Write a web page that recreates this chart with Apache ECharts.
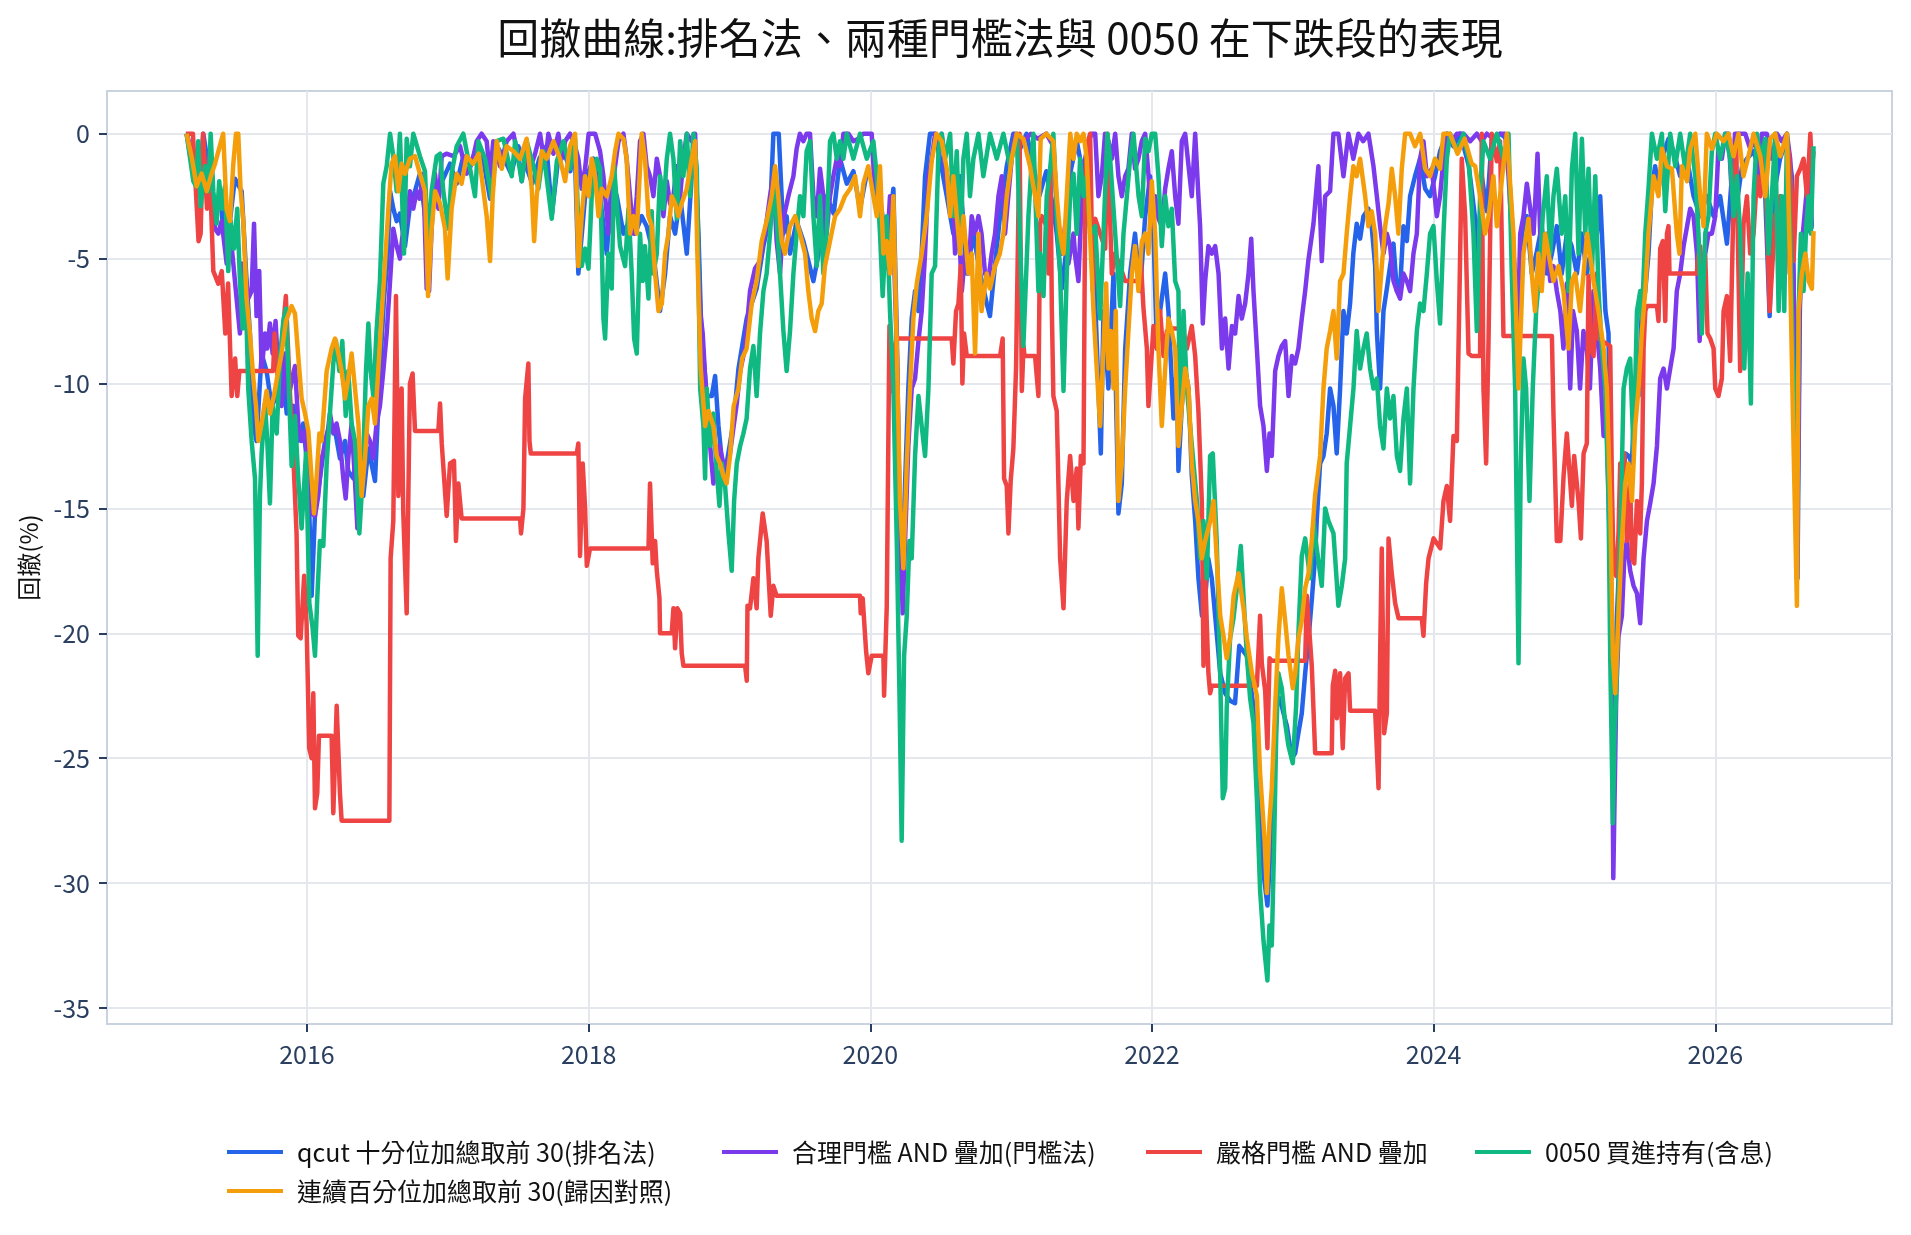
<!DOCTYPE html>
<html>
<head>
<meta charset="utf-8">
<title>回撤曲線</title>
<script src="https://cdn.jsdelivr.net/npm/echarts@6/dist/echarts.min.js"></script>
<style>
  html, body { margin: 0; padding: 0; background: #fff; }
  #chart { width: 1911px; height: 1235px; }
</style>
</head>
<body>
<div id="chart"></div>
<script>
// 各策略名稱（依圖例順序）
var names = [
  'qcut 十分位加總取前 30(排名法)',
  '合理門檻 AND 疊加(門檻法)',
  '嚴格門檻 AND 疊加',
  '0050 買進持有(含息)',
  '連續百分位加總取前 30(歸因對照)'
];
var colors = ['#2563eb', '#7c3aed', '#ef4444', '#10b981', '#f59e0b'];

var yearTicks = [2016, 2018, 2020, 2022, 2024, 2026];
var ddTicks = [0, -5, -10, -15, -20, -25, -30, -35];

// 回撤(%)，[年份(小數), 回撤]
var qcutDD = [[2015.145,0],[2015.193,-1.6],[2015.24,-1.6],[2015.264,0],[2015.288,-0.9],[2015.335,-3.8],[2015.382,-2.3],[2015.405,-3.8],[2015.453,-3.5],[2015.488,-1.8],[2015.536,-2.3],[2015.548,-3.5],[2015.571,-5.9],[2015.595,-8.0],[2015.619,-11.6],[2015.642,-12.3],[2015.678,-8.8],[2015.713,-9.5],[2015.749,-10.9],[2015.785,-10.5],[2015.82,-8.8],[2015.856,-11.2],[2015.903,-10.9],[2015.938,-12.3],[2015.974,-11.6],[2016.01,-13.8],[2016.033,-18.5],[2016.057,-15.2],[2016.092,-13.8],[2016.128,-12.3],[2016.163,-11.6],[2016.2,-11.9],[2016.234,-13.0],[2016.27,-12.3],[2016.293,-13.5],[2016.33,-13.8],[2016.365,-12.3],[2016.4,-14.5],[2016.436,-12.6],[2016.483,-13.9],[2016.518,-9.5],[2016.547,-6.6],[2016.57,-5.2],[2016.59,-2.3],[2016.613,-3.0],[2016.637,-3.5],[2016.66,-3.2],[2016.696,-4.5],[2016.731,-2.9],[2016.767,-2.3],[2016.802,-1.6],[2016.85,-3.8],[2016.885,-3.0],[2016.921,-2.3],[2016.968,-1.8],[2017.016,-1.2],[2017.063,-2.0],[2017.11,-0.9],[2017.158,-1.2],[2017.205,-0.6],[2017.25,-1.0],[2017.30,-2.6],[2017.35,-0.5],[2017.40,-1.0],[2017.45,-1.6],[2017.50,-0.5],[2017.55,-1.2],[2017.60,-2.0],[2017.65,-1.0],[2017.70,-0.5],[2017.74,-3.2],[2017.78,-1.2],[2017.83,-0.8],[2017.87,-1.5],[2017.90,-0.3],[2017.927,-5.6],[2017.963,-3.3],[2017.987,-1.7],[2018.034,-1.0],[2018.081,-2.5],[2018.129,-4.8],[2018.164,-1.9],[2018.2,-2.5],[2018.247,-4.0],[2018.294,-3.4],[2018.33,-4.0],[2018.377,-3.3],[2018.412,-3.7],[2018.46,-4.8],[2018.507,-7.1],[2018.543,-5.6],[2018.578,-3.3],[2018.614,-4.0],[2018.65,-2.5],[2018.697,-4.8],[2018.732,-1.7],[2018.756,-0.7],[2018.78,-4.0],[2018.8,-7.9],[2018.839,-10.5],[2018.874,-10.5],[2018.898,-9.7],[2018.922,-11.7],[2018.957,-13.7],[2018.98,-13.2],[2019.004,-12.4],[2019.03,-11.5],[2019.064,-9.4],[2019.122,-7.4],[2019.193,-6.2],[2019.241,-4.5],[2019.288,-3.3],[2019.312,0],[2019.35,0],[2019.383,-4.0],[2019.406,-3.3],[2019.43,-4.8],[2019.477,-3.5],[2019.525,-4.3],[2019.596,-5.9],[2019.643,-4.5],[2019.667,-4.0],[2019.69,-2.5],[2019.74,-3.2],[2019.785,-1.0],[2019.833,-2.0],[2019.88,-1.5],[2019.927,-3.0],[2019.975,-1.6],[2020.022,-1.7],[2020.069,-2.6],[2020.117,-4.5],[2020.164,-2.2],[2020.188,-7.9],[2020.207,-14.7],[2020.223,-18.6],[2020.247,-14.0],[2020.27,-10.2],[2020.294,-7.4],[2020.318,-6.3],[2020.342,-7.1],[2020.365,-4.8],[2020.389,-1.7],[2020.424,0],[2020.46,0],[2020.495,-1.0],[2020.543,-2.5],[2020.59,-4.0],[2020.638,-1.7],[2020.685,-5.6],[2020.732,-4.0],[2020.78,-5.6],[2020.827,-6.8],[2020.85,-7.3],[2020.874,-5.9],[2020.921,-3.3],[2020.969,-1.3],[2021.016,0],[2021.064,-0.6],[2021.11,0],[2021.158,-1.3],[2021.2,-2.5],[2021.25,-1.5],[2021.30,-3.0],[2021.324,-4.0],[2021.36,-6.2],[2021.395,-4.5],[2021.419,-1.6],[2021.466,-0.3],[2021.514,-1.7],[2021.585,-4.8],[2021.62,-10.2],[2021.637,-12.8],[2021.656,-7.1],[2021.691,-10.2],[2021.727,-5.6],[2021.762,-15.2],[2021.786,-14.0],[2021.81,-8.6],[2021.845,-5.6],[2021.88,-4.0],[2021.916,-6.3],[2021.952,-3.3],[2021.987,-1.7],[2022.011,-4.0],[2022.035,-8.6],[2022.058,-7.1],[2022.094,-5.6],[2022.117,-7.1],[2022.153,-11.4],[2022.176,-9.4],[2022.188,-13.5],[2022.212,-10.9],[2022.235,-9.4],[2022.26,-10.2],[2022.283,-13.7],[2022.307,-15.5],[2022.33,-17.8],[2022.355,-19.3],[2022.378,-18.6],[2022.40,-17.0],[2022.425,-17.8],[2022.46,-20.0],[2022.485,-21.6],[2022.52,-22.4],[2022.555,-22.7],[2022.59,-22.8],[2022.62,-20.5],[2022.674,-20.9],[2022.72,-22.9],[2022.756,-25.8],[2022.792,-29.6],[2022.82,-30.9],[2022.839,-28.9],[2022.863,-25.6],[2022.887,-22.9],[2022.91,-22.6],[2022.934,-23.2],[2022.958,-23.7],[2022.993,-25.0],[2023.017,-24.8],[2023.04,-24.0],[2023.064,-23.2],[2023.088,-21.6],[2023.112,-20.2],[2023.136,-18.6],[2023.159,-16.9],[2023.17,-15.5],[2023.194,-13.2],[2023.218,-12.9],[2023.241,-12.0],[2023.265,-10.2],[2023.289,-10.9],[2023.312,-12.8],[2023.336,-10.2],[2023.36,-7.1],[2023.383,-8.0],[2023.407,-6.8],[2023.43,-4.8],[2023.454,-3.6],[2023.478,-4.2],[2023.502,-3.3],[2023.537,-3.0],[2023.56,-3.7],[2023.585,-5.3],[2023.597,-7.9],[2023.62,-10.2],[2023.644,-7.1],[2023.668,-6.2],[2023.691,-5.3],[2023.715,-4.4],[2023.739,-6.3],[2023.762,-6.2],[2023.786,-3.7],[2023.81,-4.3],[2023.833,-2.5],[2023.868,-1.7],[2023.904,-1.0],[2023.94,-2.2],[2023.975,-2.5],[2024.01,-1.7],[2024.046,-0.7],[2024.094,0],[2024.14,-0.5],[2024.19,0],[2024.25,-1.3],[2024.295,-3.4],[2024.318,-4.8],[2024.342,-1.7],[2024.378,-3.1],[2024.413,-0.2],[2024.472,0],[2024.52,-0.2],[2024.555,-3.3],[2024.58,-6.3],[2024.603,-8.6],[2024.627,-4.0],[2024.662,-3.3],[2024.697,-5.6],[2024.73,-4.8],[2024.768,-3.7],[2024.804,-5.6],[2024.84,-4.8],[2024.875,-3.7],[2024.91,-5.6],[2024.946,-4.0],[2024.98,-4.5],[2025.017,-5.6],[2025.053,-4.0],[2025.088,-5.6],[2025.124,-4.5],[2025.16,-4.0],[2025.183,-2.5],[2025.22,-7.1],[2025.242,-8.0],[2025.254,-14.7],[2025.27,-22.8],[2025.29,-20.9],[2025.313,-17.8],[2025.337,-14.7],[2025.36,-12.8],[2025.385,-12.9],[2025.408,-13.2],[2025.43,-10.2],[2025.455,-10.5],[2025.478,-7.1],[2025.503,-6.3],[2025.526,-4.8],[2025.55,-2.2],[2025.573,-1.3],[2025.597,-2.2],[2025.633,-0.8],[2025.668,-0.2],[2025.704,-0.7],[2025.751,-1.7],[2025.8,-1.0],[2025.846,-2.5],[2025.893,-3.3],[2025.94,-2.5],[2025.988,-3.3],[2026.035,-2.5],[2026.083,-4.4],[2026.118,-1.7],[2026.153,-2.8],[2026.19,-1.3],[2026.225,-1.0],[2026.272,-0.7],[2026.32,-1.6],[2026.355,-2.5],[2026.386,-7.3],[2026.414,-2.5],[2026.46,-1.0],[2026.509,-0.2],[2026.544,-1.7],[2026.568,-10.2],[2026.584,-17.8],[2026.603,-5.6],[2026.64,-4.0],[2026.675,-3.7],[2026.698,-3.7]];

var reasonDD = [[2015.145,0],[2015.193,-0.9],[2015.24,-2.3],[2015.276,-0.9],[2015.31,-1.2],[2015.347,-3.8],[2015.37,-4.0],[2015.394,-3.5],[2015.43,-5.2],[2015.453,-3.8],[2015.477,-5.2],[2015.5,-6.6],[2015.524,-8.0],[2015.536,-5.2],[2015.56,-5.5],[2015.583,-6.6],[2015.607,-6.3],[2015.624,-3.6],[2015.642,-7.3],[2015.661,-5.5],[2015.678,-9.5],[2015.702,-8.0],[2015.718,-8.6],[2015.737,-7.6],[2015.756,-8.8],[2015.777,-7.5],[2015.796,-9.5],[2015.82,-10.9],[2015.844,-8.8],[2015.868,-10.6],[2015.891,-9.9],[2015.915,-9.3],[2015.938,-11.6],[2015.962,-12.3],[2015.986,-11.9],[2016.01,-13.8],[2016.033,-15.2],[2016.057,-15.3],[2016.08,-14.5],[2016.104,-13.0],[2016.14,-12.3],[2016.163,-11.2],[2016.187,-12.0],[2016.21,-11.6],[2016.234,-12.3],[2016.258,-13.8],[2016.275,-14.6],[2016.293,-13.0],[2016.317,-11.6],[2016.34,-13.8],[2016.358,-15.8],[2016.377,-14.5],[2016.4,-13.0],[2016.424,-12.0],[2016.447,-12.3],[2016.471,-13.0],[2016.494,-11.6],[2016.518,-10.9],[2016.542,-9.5],[2016.566,-8.0],[2016.59,-5.9],[2016.613,-3.8],[2016.637,-4.5],[2016.66,-5.0],[2016.684,-3.8],[2016.708,-3.5],[2016.731,-2.3],[2016.755,-3.0],[2016.779,-2.3],[2016.8,-2.6],[2016.826,-1.6],[2016.85,-6.2],[2016.867,-6.3],[2016.885,-3.8],[2016.909,-1.6],[2016.933,-3.0],[2016.957,-0.9],[2016.99,-0.8],[2017.04,-0.9],[2017.087,-0.5],[2017.134,-1.6],[2017.17,-1.2],[2017.205,-0.3],[2017.24,0],[2017.276,-0.3],[2017.3,-1.7],[2017.323,-0.3],[2017.371,-1.3],[2017.418,-0.3],[2017.466,0],[2017.513,-1.3],[2017.525,-1.9],[2017.56,-0.5],[2017.584,-1.4],[2017.62,-0.8],[2017.655,0],[2017.69,-1.3],[2017.714,0],[2017.75,-0.8],[2017.785,0],[2017.809,-1.0],[2017.833,-0.3],[2017.868,0],[2017.904,-0.5],[2017.927,-1.0],[2017.951,-2.2],[2017.975,-1.4],[2018.0,0],[2018.046,0],[2018.081,-0.7],[2018.105,-1.7],[2018.14,-4.0],[2018.164,-2.3],[2018.188,-1.3],[2018.212,-0.3],[2018.247,0],[2018.27,-1.0],[2018.294,-2.5],[2018.318,-4.0],[2018.342,-2.5],[2018.365,-0.3],[2018.389,0],[2018.412,-1.3],[2018.436,-1.7],[2018.46,-2.5],[2018.484,-1.0],[2018.507,-1.7],[2018.531,-3.3],[2018.555,-1.9],[2018.578,-2.8],[2018.602,-2.5],[2018.626,-1.3],[2018.65,-2.5],[2018.673,-1.0],[2018.697,0],[2018.732,-0.3],[2018.756,0],[2018.772,-3.3],[2018.792,-7.1],[2018.81,-8.0],[2018.839,-10.9],[2018.863,-12.5],[2018.886,-14.0],[2018.905,-13.2],[2018.929,-12.5],[2018.957,-13.2],[2018.98,-13.5],[2019.004,-12.8],[2019.03,-11.7],[2019.052,-10.8],[2019.076,-9.5],[2019.11,-8.6],[2019.146,-6.3],[2019.181,-5.4],[2019.217,-5.1],[2019.252,-4.0],[2019.288,-2.5],[2019.312,-1.7],[2019.335,-4.3],[2019.359,-5.6],[2019.383,-3.4],[2019.418,-2.5],[2019.454,-1.7],[2019.477,-0.6],[2019.5,0],[2019.525,-0.3],[2019.548,0],[2019.572,0],[2019.596,-2.5],[2019.62,-3.3],[2019.643,-1.4],[2019.667,-2.5],[2019.69,-4.0],[2019.714,-2.5],[2019.738,-1.7],[2019.762,-1.0],[2019.785,-1.3],[2019.809,0],[2019.845,0],[2019.88,-0.3],[2019.915,-0.2],[2019.95,0],[2019.986,0],[2020.01,0],[2020.034,-2.5],[2020.058,-1.7],[2020.081,-4.0],[2020.117,-4.8],[2020.14,-2.5],[2020.164,-4.0],[2020.188,-8.6],[2020.207,-14.7],[2020.23,-19.2],[2020.247,-16.3],[2020.27,-12.5],[2020.294,-10.2],[2020.318,-9.8],[2020.342,-8.3],[2020.365,-7.1],[2020.389,-4.8],[2020.413,-1.7],[2020.436,-1.0],[2020.46,0],[2020.484,-0.3],[2020.507,0],[2020.531,-1.3],[2020.555,-2.5],[2020.578,-1.7],[2020.602,-4.8],[2020.626,-3.3],[2020.65,-6.3],[2020.673,-4.8],[2020.697,-5.6],[2020.72,-3.3],[2020.744,-4.0],[2020.768,-3.3],[2020.79,-4.0],[2020.815,-5.6],[2020.838,-5.9],[2020.862,-4.8],[2020.886,-4.0],[2020.91,-2.5],[2020.934,-1.7],[2020.957,-4.0],[2020.98,-2.5],[2021.004,-1.0],[2021.028,0],[2021.087,-0.3],[2021.14,0],[2021.19,-0.2],[2021.25,0],[2021.3,-0.5],[2021.336,-4.0],[2021.36,-4.8],[2021.383,-3.7],[2021.407,-5.2],[2021.443,-4.0],[2021.455,-4.9],[2021.478,-5.9],[2021.502,-2.5],[2021.526,-1.0],[2021.55,-0.3],[2021.573,0],[2021.597,0],[2021.62,-2.5],[2021.644,-1.7],[2021.667,0],[2021.691,-0.3],[2021.715,-1.0],[2021.739,0],[2021.762,-1.7],[2021.786,-2.5],[2021.81,-1.7],[2021.833,-1.4],[2021.857,0],[2021.88,-1.4],[2021.904,-1.0],[2021.928,-0.3],[2021.952,0],[2021.976,-1.7],[2021.999,-3.7],[2022.023,-2.5],[2022.046,-3.4],[2022.07,-3.7],[2022.094,-2.2],[2022.117,-1.4],[2022.141,-0.7],[2022.165,-2.5],[2022.188,-3.6],[2022.212,-0.3],[2022.236,0],[2022.26,-1.3],[2022.283,-2.5],[2022.307,0],[2022.33,-2.5],[2022.342,-3.7],[2022.361,-7.6],[2022.378,-5.9],[2022.401,-4.5],[2022.425,-4.8],[2022.449,-4.5],[2022.473,-5.6],[2022.497,-8.6],[2022.52,-7.4],[2022.544,-9.4],[2022.568,-7.7],[2022.591,-8.0],[2022.615,-6.5],[2022.638,-7.4],[2022.662,-6.8],[2022.686,-5.6],[2022.705,-4.2],[2022.721,-6.3],[2022.745,-8.6],[2022.768,-10.9],[2022.792,-11.7],[2022.816,-13.5],[2022.835,-12.0],[2022.851,-12.9],[2022.875,-9.5],[2022.898,-8.9],[2022.922,-8.5],[2022.946,-8.3],[2022.97,-10.5],[2022.994,-8.9],[2023.017,-9.2],[2023.04,-8.6],[2023.064,-7.4],[2023.088,-6.3],[2023.11,-5.1],[2023.147,-3.6],[2023.182,-1.3],[2023.206,-5.1],[2023.23,-2.5],[2023.265,-2.3],[2023.289,0],[2023.324,0],[2023.36,-1.7],[2023.395,0],[2023.43,-1.0],[2023.466,0],[2023.5,-0.3],[2023.537,0],[2023.573,-1.3],[2023.597,-2.5],[2023.62,-3.7],[2023.644,-4.8],[2023.668,-4.0],[2023.691,-4.5],[2023.715,-5.9],[2023.739,-6.3],[2023.762,-6.6],[2023.786,-5.6],[2023.81,-5.9],[2023.833,-6.3],[2023.857,-4.8],[2023.881,-4.0],[2023.904,-1.0],[2023.928,-0.3],[2023.952,-1.7],[2023.987,-1.4],[2024.023,-3.3],[2024.046,-2.5],[2024.07,-1.0],[2024.094,0],[2024.129,-0.3],[2024.165,0],[2024.212,0],[2024.26,-0.3],[2024.307,0],[2024.342,-0.3],[2024.378,0],[2024.425,-0.2],[2024.472,0],[2024.508,0],[2024.532,-1.7],[2024.555,-4.0],[2024.579,-5.6],[2024.596,-8.6],[2024.615,-4.0],[2024.638,-3.3],[2024.662,-2.0],[2024.686,-3.0],[2024.71,-4.0],[2024.738,-0.8],[2024.757,-4.0],[2024.78,-5.6],[2024.804,-4.0],[2024.828,-5.9],[2024.851,-5.3],[2024.875,-6.3],[2024.9,-7.1],[2024.922,-8.6],[2024.946,-6.0],[2024.97,-10.2],[2024.99,-7.1],[2025.017,-7.9],[2025.04,-10.2],[2025.064,-7.9],[2025.088,-8.6],[2025.11,-10.2],[2025.135,-6.3],[2025.16,-7.9],[2025.183,-9.4],[2025.207,-12.1],[2025.23,-11.7],[2025.25,-16.3],[2025.265,-20.9],[2025.276,-29.8],[2025.297,-22.4],[2025.313,-20.1],[2025.337,-19.3],[2025.354,-17.0],[2025.372,-16.3],[2025.396,-17.5],[2025.42,-18.1],[2025.444,-18.4],[2025.467,-19.6],[2025.491,-17.0],[2025.515,-15.5],[2025.538,-14.8],[2025.562,-14.0],[2025.586,-12.5],[2025.609,-9.8],[2025.633,-9.4],[2025.657,-10.2],[2025.68,-9.4],[2025.704,-8.6],[2025.727,-6.3],[2025.751,-5.6],[2025.775,-4.5],[2025.8,-3.7],[2025.822,-3.0],[2025.846,-3.3],[2025.87,-4.8],[2025.889,-8.3],[2025.905,-5.6],[2025.929,-4.8],[2025.952,-4.0],[2025.976,-4.0],[2026.0,-3.3],[2026.023,-0.6],[2026.047,-1.0],[2026.07,0],[2026.094,0],[2026.118,-2.5],[2026.14,0],[2026.177,0],[2026.213,0],[2026.248,-0.6],[2026.284,-0.2],[2026.308,-1.7],[2026.331,0],[2026.366,0],[2026.402,-1.0],[2026.438,0],[2026.473,-0.3],[2026.509,0],[2026.532,-1.0],[2026.556,-5.6],[2026.58,-17.8],[2026.599,-7.1],[2026.622,-4.0],[2026.646,-2.5],[2026.67,-1.3],[2026.686,-3.7],[2026.698,-3.7]];

var strictDD = [[2015.14,0],[2015.19,0],[2015.23,-4.3],[2015.245,-4.0],[2015.262,0],[2015.29,-3.0],[2015.31,-1.5],[2015.335,-5.5],[2015.37,-6.0],[2015.395,-5.5],[2015.42,-8.0],[2015.44,-6.0],[2015.465,-10.5],[2015.49,-9.0],[2015.505,-10.5],[2015.52,-9.5],[2015.76,-9.5],[2015.77,-8.0],[2015.795,-10.0],[2015.82,-8.5],[2015.85,-6.5],[2015.88,-10.5],[2015.90,-12.5],[2015.926,-16.0],[2015.938,-20.1],[2015.955,-20.2],[2015.98,-17.7],[2015.997,-19.6],[2016.016,-24.6],[2016.033,-25.0],[2016.045,-22.4],[2016.057,-27.0],[2016.073,-26.4],[2016.085,-24.1],[2016.175,-24.1],[2016.187,-27.2],[2016.211,-22.9],[2016.234,-26.4],[2016.246,-27.5],[2016.585,-27.5],[2016.594,-17.0],[2016.613,-15.5],[2016.632,-6.5],[2016.649,-14.5],[2016.672,-10.2],[2016.684,-15.2],[2016.708,-19.2],[2016.731,-10.0],[2016.75,-9.6],[2016.767,-11.9],[2016.933,-11.9],[2016.945,-10.8],[2016.957,-12.4],[2016.992,-15.3],[2017.016,-13.2],[2017.044,-13.1],[2017.058,-16.3],[2017.075,-14.0],[2017.098,-15.4],[2017.513,-15.4],[2017.52,-16.0],[2017.537,-15.0],[2017.549,-10.6],[2017.572,-9.2],[2017.58,-12.3],[2017.589,-12.8],[2017.916,-12.8],[2017.927,-12.4],[2017.939,-16.9],[2017.958,-13.2],[2017.975,-15.0],[2017.987,-17.3],[2018.01,-16.6],[2018.425,-16.6],[2018.436,-14.0],[2018.455,-17.2],[2018.472,-16.3],[2018.484,-17.5],[2018.503,-18.6],[2018.507,-20.0],[2018.59,-20.0],[2018.602,-19.0],[2018.614,-20.6],[2018.63,-19.0],[2018.65,-19.2],[2018.661,-20.8],[2018.673,-21.3],[2019.111,-21.3],[2019.123,-21.9],[2019.128,-18.9],[2019.146,-19.0],[2019.17,-17.8],[2019.193,-19.0],[2019.205,-17.0],[2019.236,-15.2],[2019.264,-16.3],[2019.293,-19.3],[2019.312,-18.1],[2019.335,-18.5],[2019.927,-18.5],[2019.932,-19.2],[2019.946,-18.6],[2019.97,-20.7],[2019.986,-21.6],[2020.01,-20.9],[2020.093,-20.9],[2020.098,-22.5],[2020.117,-18.9],[2020.136,-7.7],[2020.152,-10.3],[2020.169,-8.6],[2020.188,-8.2],[2020.578,-8.2],[2020.59,-9.2],[2020.609,-7.1],[2020.626,-6.8],[2020.642,-5.3],[2020.654,-10.0],[2020.666,-8.0],[2020.685,-8.9],[2020.922,-8.9],[2020.94,-8.2],[2020.95,-13.8],[2020.969,-14.1],[2020.981,-16.0],[2020.997,-13.9],[2021.016,-12.6],[2021.035,-9.4],[2021.06,0],[2021.076,-10.3],[2021.088,-8.5],[2021.095,-8.9],[2021.17,-8.9],[2021.194,-10.5],[2021.206,-3.6],[2021.218,-3.3],[2021.253,-3.7],[2021.266,-5.6],[2021.28,-1.4],[2021.289,-7.0],[2021.3,-10.5],[2021.324,-11.1],[2021.348,-17.0],[2021.372,-19.0],[2021.395,-14.7],[2021.419,-12.9],[2021.443,-14.7],[2021.466,-13.4],[2021.478,-15.8],[2021.495,-12.9],[2021.514,-13.2],[2021.526,-2.5],[2021.537,-0.5],[2021.561,0],[2021.58,-6.3],[2021.597,-3.4],[2021.632,-4.0],[2021.668,-4.6],[2021.684,0],[2021.715,-5.6],[2021.739,-4.8],[2021.774,-5.3],[2021.81,-5.9],[2021.904,-5.9],[2021.921,-5.1],[2021.94,-7.0],[2021.964,-8.6],[2021.975,-10.9],[2021.992,-9.4],[2022.011,-7.7],[2022.035,-8.6],[2022.058,-7.1],[2022.082,-8.9],[2022.106,-7.9],[2022.129,-7.8],[2022.2,-7.8],[2022.224,-8.0],[2022.248,-8.6],[2022.283,-7.7],[2022.307,-8.9],[2022.33,-11.1],[2022.354,-14.7],[2022.366,-21.3],[2022.378,-17.6],[2022.401,-21.6],[2022.413,-22.4],[2022.425,-22.1],[2022.745,-22.1],[2022.768,-19.3],[2022.78,-21.2],[2022.804,-22.3],[2022.82,-24.6],[2022.835,-21.0],[2022.851,-21.1],[2023.088,-21.1],[2023.1,-18.5],[2023.135,-21.3],[2023.159,-24.8],[2023.277,-24.8],[2023.284,-22.1],[2023.301,-21.5],[2023.313,-23.4],[2023.336,-21.6],[2023.355,-24.6],[2023.372,-21.8],[2023.396,-21.6],[2023.407,-23.1],[2023.585,-23.1],[2023.609,-26.2],[2023.62,-21.0],[2023.632,-16.6],[2023.649,-24.0],[2023.668,-23.2],[2023.68,-16.2],[2023.703,-17.6],[2023.727,-18.8],[2023.751,-19.4],[2023.916,-19.4],[2023.928,-20.1],[2023.947,-18.0],[2023.964,-17.0],[2024.0,-16.2],[2024.047,-16.6],[2024.07,-14.7],[2024.094,-14.1],[2024.117,-15.5],[2024.141,-12.1],[2024.165,-12.3],[2024.184,-6.3],[2024.2,-1.0],[2024.224,-3.3],[2024.248,-8.8],[2024.271,-8.9],[2024.33,-8.9],[2024.342,0],[2024.354,-10.2],[2024.373,-13.2],[2024.39,-8.3],[2024.413,0],[2024.449,-1.1],[2024.472,-0.3],[2024.496,-8.1],[2024.84,-8.1],[2024.851,-11.2],[2024.875,-16.3],[2024.9,-16.3],[2024.923,-13.7],[2024.946,-12.0],[2024.982,-14.9],[2024.998,-12.9],[2025.029,-14.7],[2025.046,-16.2],[2025.065,-12.8],[2025.088,-12.4],[2025.1,-5.7],[2025.117,-8.6],[2025.136,-8.9],[2025.159,-5.6],[2025.171,-8.2],[2025.254,-8.5],[2025.266,-14.0],[2025.278,-17.5],[2025.297,-17.7],[2025.313,-16.0],[2025.325,-13.2],[2025.337,-15.5],[2025.354,-12.8],[2025.372,-16.3],[2025.396,-14.0],[2025.408,-17.0],[2025.425,-17.2],[2025.444,-14.7],[2025.467,-16.0],[2025.479,-14.0],[2025.491,-8.6],[2025.503,-7.1],[2025.515,-6.9],[2025.586,-6.9],[2025.597,-7.5],[2025.609,-4.6],[2025.628,-4.3],[2025.645,-7.5],[2025.657,-4.0],[2025.668,-3.7],[2025.675,-5.6],[2025.87,-5.6],[2025.874,-5.1],[2025.893,-4.5],[2025.912,-6.0],[2025.929,-4.9],[2025.945,-8.0],[2025.964,-8.2],[2025.988,-8.6],[2026.0,-10.2],[2026.023,-10.5],[2026.047,-9.8],[2026.059,-7.1],[2026.083,-6.5],[2026.106,-9.1],[2026.13,-2.5],[2026.149,-0.5],[2026.177,-9.5],[2026.201,-3.6],[2026.225,-2.5],[2026.248,-4.8],[2026.272,-4.0],[2026.296,-1.7],[2026.32,-2.5],[2026.343,-0.7],[2026.367,-3.3],[2026.386,-7.1],[2026.402,-5.6],[2026.426,-3.3],[2026.462,-2.5],[2026.497,-5.6],[2026.521,-0.7],[2026.544,-2.5],[2026.556,-5.1],[2026.58,-1.7],[2026.604,-1.4],[2026.627,-1.0],[2026.651,-2.5],[2026.675,0],[2026.686,-1.4],[2026.698,-0.7]];

var etfDD = [[2015.145,0],[2015.193,-1.9],[2015.212,-2.1],[2015.228,-0.3],[2015.245,-2.9],[2015.276,-1.3],[2015.299,-2.3],[2015.316,0],[2015.335,-2.3],[2015.358,-3.6],[2015.377,-1.9],[2015.394,-3.0],[2015.418,-2.1],[2015.441,-5.5],[2015.458,-3.5],[2015.482,-4.6],[2015.505,-3.0],[2015.524,-5.9],[2015.543,-7.8],[2015.56,-5.2],[2015.583,-10.2],[2015.607,-12.3],[2015.631,-13.8],[2015.65,-20.9],[2015.666,-14.5],[2015.678,-12.8],[2015.702,-10.8],[2015.718,-12.3],[2015.737,-14.8],[2015.756,-10.9],[2015.785,-12.0],[2015.808,-9.0],[2015.832,-7.5],[2015.851,-7.0],[2015.867,-9.5],[2015.891,-13.3],[2015.915,-11.3],[2015.938,-13.8],[2015.962,-15.8],[2015.993,-12.8],[2016.017,-18.8],[2016.04,-19.8],[2016.057,-20.9],[2016.073,-18.6],[2016.092,-16.3],[2016.116,-16.5],[2016.14,-13.2],[2016.163,-11.2],[2016.187,-9.2],[2016.206,-8.3],[2016.23,-9.5],[2016.251,-8.3],[2016.275,-11.3],[2016.293,-9.5],[2016.317,-11.6],[2016.341,-12.3],[2016.372,-16.0],[2016.395,-13.8],[2016.419,-9.5],[2016.436,-7.6],[2016.452,-9.5],[2016.471,-10.5],[2016.494,-7.9],[2016.518,-5.9],[2016.542,-2.0],[2016.566,-1.3],[2016.59,0],[2016.613,-0.9],[2016.637,-2.3],[2016.66,0],[2016.689,-4.8],[2016.708,-0.2],[2016.731,-1.3],[2016.755,0],[2016.802,-0.9],[2016.838,-1.5],[2016.86,-4.6],[2016.885,-2.3],[2016.921,-0.9],[2016.945,-0.8],[2016.968,-2.3],[2017.004,-3.8],[2017.027,-1.6],[2017.063,-0.5],[2017.11,0],[2017.158,-1.4],[2017.193,-2.5],[2017.217,-0.3],[2017.265,-1.0],[2017.312,-2.6],[2017.347,-0.3],[2017.395,-0.2],[2017.454,-1.7],[2017.478,-0.3],[2017.525,-1.9],[2017.56,-0.3],[2017.608,-1.3],[2017.643,-2.2],[2017.679,-0.7],[2017.738,-3.4],[2017.774,-1.1],[2017.821,-0.3],[2017.868,-1.4],[2017.904,-0.2],[2017.927,-3.6],[2017.951,-5.3],[2017.975,-4.6],[2017.999,-5.4],[2018.022,-2.5],[2018.058,-1.0],[2018.081,-1.4],[2018.105,-7.4],[2018.117,-8.2],[2018.14,-4.8],[2018.164,-6.2],[2018.181,-1.3],[2018.2,-2.8],[2018.223,-4.5],[2018.259,-5.3],[2018.283,-3.0],[2018.306,-5.6],[2018.323,-8.2],[2018.342,-8.8],[2018.365,-4.0],[2018.384,-5.9],[2018.4,-4.5],[2018.425,-6.6],[2018.448,-3.1],[2018.46,-5.6],[2018.484,-4.8],[2018.507,-1.7],[2018.531,-3.0],[2018.555,-1.0],[2018.578,0],[2018.602,-1.0],[2018.626,-3.4],[2018.65,-0.3],[2018.673,-1.7],[2018.697,0],[2018.72,-2.5],[2018.744,0],[2018.768,-1.4],[2018.78,-5.6],[2018.792,-10.2],[2018.815,-11.7],[2018.827,-13.8],[2018.839,-10.2],[2018.863,-12.5],[2018.886,-11.2],[2018.905,-13.2],[2018.929,-14.9],[2018.945,-13.2],[2018.969,-14.1],[2018.993,-16.0],[2019.016,-17.5],[2019.033,-14.7],[2019.052,-13.2],[2019.076,-12.5],[2019.099,-12.0],[2019.122,-11.4],[2019.146,-9.4],[2019.17,-8.5],[2019.193,-10.5],[2019.217,-8.0],[2019.241,-6.3],[2019.264,-5.6],[2019.288,-4.0],[2019.312,-2.2],[2019.335,-3.4],[2019.359,-5.6],[2019.383,-7.9],[2019.406,-9.5],[2019.43,-7.9],[2019.454,-5.6],[2019.477,-4.0],[2019.501,-2.5],[2019.525,-3.3],[2019.548,-0.7],[2019.572,-0.3],[2019.596,-3.3],[2019.62,-5.3],[2019.643,-2.5],[2019.667,-5.6],[2019.69,-4.0],[2019.714,-0.3],[2019.738,0],[2019.762,-1.0],[2019.785,-0.3],[2019.809,-1.0],[2019.833,0],[2019.88,-1.0],[2019.927,0],[2019.975,-1.0],[2020.022,-0.3],[2020.046,-1.7],[2020.069,-4.0],[2020.088,-6.5],[2020.117,-3.3],[2020.14,-7.1],[2020.164,-10.2],[2020.188,-16.3],[2020.207,-22.4],[2020.223,-28.3],[2020.24,-20.9],[2020.259,-19.3],[2020.278,-16.3],[2020.294,-17.0],[2020.318,-12.9],[2020.342,-10.5],[2020.365,-11.7],[2020.389,-12.9],[2020.413,-10.2],[2020.436,-5.6],[2020.46,-5.3],[2020.484,-0.7],[2020.507,0],[2020.531,-1.0],[2020.567,0],[2020.59,-3.3],[2020.614,-0.7],[2020.638,-4.8],[2020.661,-1.0],[2020.685,0],[2020.708,-2.5],[2020.732,-1.0],[2020.768,0],[2020.803,-1.7],[2020.85,0],[2020.898,-1.0],[2020.945,0],[2020.993,-1.3],[2021.04,0],[2021.087,-8.5],[2021.123,-3.3],[2021.158,0],[2021.194,-6.3],[2021.206,-4.8],[2021.23,-6.5],[2021.253,-2.5],[2021.277,-1.4],[2021.3,0],[2021.324,-3.3],[2021.348,-5.6],[2021.372,-10.3],[2021.395,-5.6],[2021.419,-2.5],[2021.443,-1.6],[2021.466,-4.0],[2021.49,-1.0],[2021.514,-2.5],[2021.537,-1.7],[2021.561,-4.0],[2021.597,-3.7],[2021.632,-7.4],[2021.656,-4.0],[2021.684,0],[2021.703,-1.0],[2021.739,-4.0],[2021.774,-6.9],[2021.798,-4.0],[2021.822,-2.5],[2021.845,-1.0],[2021.869,0],[2021.905,-2.5],[2021.928,-3.3],[2021.952,-0.2],[2021.976,-0.7],[2021.999,0],[2022.023,0],[2022.046,-1.7],[2022.07,-4.5],[2022.094,-2.5],[2022.117,-3.7],[2022.141,-3.0],[2022.165,-5.9],[2022.188,-6.3],[2022.2,-11.7],[2022.224,-7.1],[2022.248,-10.2],[2022.271,-11.7],[2022.295,-13.2],[2022.319,-14.7],[2022.342,-17.0],[2022.366,-15.5],[2022.39,-17.8],[2022.413,-12.9],[2022.432,-12.8],[2022.46,-16.3],[2022.484,-21.5],[2022.503,-26.6],[2022.52,-26.2],[2022.531,-23.0],[2022.555,-20.2],[2022.579,-19.4],[2022.603,-18.2],[2022.631,-16.5],[2022.65,-18.5],[2022.674,-20.9],[2022.697,-22.6],[2022.721,-23.6],[2022.745,-26.6],[2022.768,-30.3],[2022.792,-32.3],[2022.82,-33.9],[2022.834,-31.7],[2022.851,-32.5],[2022.868,-28.3],[2022.882,-24.2],[2022.898,-21.6],[2022.922,-22.2],[2022.946,-23.6],[2022.969,-24.5],[2023.0,-25.2],[2023.024,-22.9],[2023.04,-20.0],[2023.064,-16.9],[2023.088,-16.2],[2023.123,-17.8],[2023.147,-15.5],[2023.17,-16.6],[2023.206,-18.1],[2023.23,-15.0],[2023.253,-15.5],[2023.289,-16.0],[2023.324,-18.9],[2023.348,-18.1],[2023.372,-17.0],[2023.383,-13.2],[2023.407,-11.7],[2023.431,-10.2],[2023.454,-7.9],[2023.478,-9.4],[2023.502,-8.6],[2023.525,-8.0],[2023.549,-9.4],[2023.573,-10.2],[2023.597,-9.8],[2023.62,-11.7],[2023.644,-12.6],[2023.668,-10.2],[2023.691,-11.4],[2023.715,-10.5],[2023.739,-12.9],[2023.762,-13.5],[2023.786,-11.4],[2023.81,-10.2],[2023.833,-14.0],[2023.857,-10.2],[2023.881,-7.9],[2023.904,-6.8],[2023.928,-7.1],[2023.952,-5.6],[2023.975,-4.0],[2023.999,-3.7],[2024.023,-5.9],[2024.046,-7.6],[2024.07,-4.0],[2024.094,-1.0],[2024.117,0],[2024.165,-0.7],[2024.212,0],[2024.248,-1.0],[2024.283,-4.0],[2024.307,-7.9],[2024.33,-2.5],[2024.354,-0.3],[2024.401,-1.0],[2024.449,0],[2024.496,-1.0],[2024.532,0],[2024.555,-5.6],[2024.579,-10.2],[2024.603,-21.2],[2024.619,-13.2],[2024.638,-9.0],[2024.657,-10.2],[2024.681,-14.7],[2024.704,-10.2],[2024.728,-7.1],[2024.752,-5.6],[2024.775,-3.3],[2024.804,-1.7],[2024.828,-4.8],[2024.851,-2.5],[2024.875,-1.4],[2024.91,-4.0],[2024.935,-2.5],[2024.958,-6.3],[2024.982,-1.4],[2025.006,0],[2025.029,-4.8],[2025.053,-0.2],[2025.077,-4.0],[2025.1,-1.4],[2025.124,-5.6],[2025.148,-1.7],[2025.171,-6.3],[2025.195,-8.6],[2025.219,-10.2],[2025.242,-14.7],[2025.254,-20.9],[2025.273,-27.6],[2025.285,-24.0],[2025.297,-22.4],[2025.313,-18.6],[2025.332,-14.7],[2025.349,-10.2],[2025.372,-9.4],[2025.396,-9.0],[2025.42,-12.8],[2025.444,-7.1],[2025.467,-6.3],[2025.479,-7.4],[2025.503,-4.0],[2025.526,-2.2],[2025.55,0],[2025.586,-1.0],[2025.621,0],[2025.645,-3.1],[2025.68,0],[2025.716,-1.3],[2025.751,0],[2025.787,-1.4],[2025.822,0],[2025.858,-1.7],[2025.881,-4.0],[2025.905,-8.0],[2025.929,-4.0],[2025.952,-3.3],[2025.976,-0.7],[2026.0,0],[2026.035,-1.0],[2026.071,0],[2026.106,-1.0],[2026.13,-3.3],[2026.154,-1.7],[2026.177,-4.0],[2026.206,-9.4],[2026.23,-5.6],[2026.253,-10.8],[2026.272,-2.5],[2026.296,0],[2026.32,-1.0],[2026.355,-0.2],[2026.379,-4.8],[2026.402,-2.5],[2026.426,0],[2026.45,-7.1],[2026.473,-2.5],[2026.49,-7.1],[2026.509,0],[2026.532,-4.0],[2026.556,-10.2],[2026.575,-15.2],[2026.592,-7.1],[2026.608,-4.0],[2026.627,-6.3],[2026.646,-3.7],[2026.663,-2.5],[2026.679,-4.0],[2026.698,-0.5]];

var pctlDD = [[2015.145,0],[2015.18,-0.9],[2015.216,-2.1],[2015.252,-1.6],[2015.288,-2.3],[2015.323,-1.6],[2015.347,-1.2],[2015.405,0],[2015.429,-3.0],[2015.453,-3.5],[2015.477,-1.2],[2015.496,0],[2015.512,0],[2015.529,-2.3],[2015.548,-3.5],[2015.571,-6.6],[2015.595,-8.0],[2015.619,-9.8],[2015.638,-10.9],[2015.654,-12.3],[2015.678,-11.6],[2015.713,-10.3],[2015.737,-11.2],[2015.765,-10.5],[2015.796,-9.5],[2015.82,-8.8],[2015.851,-7.5],[2015.891,-6.9],[2015.915,-7.2],[2015.938,-8.9],[2015.962,-10.6],[2015.986,-11.2],[2016.01,-11.9],[2016.033,-13.8],[2016.05,-15.2],[2016.068,-13.8],[2016.088,-12.0],[2016.104,-12.3],[2016.14,-9.5],[2016.175,-8.6],[2016.199,-8.2],[2016.223,-8.8],[2016.246,-9.5],[2016.27,-10.6],[2016.293,-9.8],[2016.317,-8.8],[2016.341,-10.2],[2016.365,-11.6],[2016.388,-14.5],[2016.412,-13.0],[2016.436,-10.9],[2016.46,-10.6],[2016.483,-11.6],[2016.506,-9.5],[2016.53,-7.3],[2016.554,-5.2],[2016.578,-3.0],[2016.601,-1.2],[2016.625,-0.9],[2016.649,-2.3],[2016.672,-1.2],[2016.696,-1.6],[2016.731,-1.0],[2016.767,-0.9],[2016.802,-1.6],[2016.838,-2.3],[2016.86,-6.5],[2016.885,-3.8],[2016.91,-2.3],[2016.945,-2.8],[2016.98,-3.8],[2016.999,-5.8],[2017.027,-3.0],[2017.063,-1.6],[2017.098,-2.0],[2017.134,-0.9],[2017.18,-1.2],[2017.22,-0.8],[2017.276,-3.3],[2017.3,-5.1],[2017.319,-2.5],[2017.347,-0.3],[2017.383,-1.4],[2017.418,-0.5],[2017.466,-0.7],[2017.513,-1.0],[2017.56,-0.2],[2017.596,-2.2],[2017.613,-4.3],[2017.631,-2.5],[2017.667,-0.7],[2017.702,-1.0],[2017.75,-0.3],[2017.797,-1.0],[2017.833,-1.9],[2017.868,-0.5],[2017.904,0],[2017.927,-5.3],[2017.951,-3.3],[2017.975,-1.7],[2017.999,-2.5],[2018.022,-1.0],[2018.046,-1.7],[2018.07,-3.3],[2018.093,-2.2],[2018.129,-2.5],[2018.164,-1.7],[2018.188,-0.7],[2018.212,0],[2018.247,-0.2],[2018.27,-1.0],[2018.294,-4.0],[2018.318,-3.3],[2018.342,-4.0],[2018.377,0],[2018.4,-1.0],[2018.425,-3.3],[2018.448,-3.7],[2018.472,-5.6],[2018.496,-7.1],[2018.52,-6.8],[2018.543,-4.8],[2018.567,-4.0],[2018.59,-2.5],[2018.614,-2.8],[2018.637,-3.3],[2018.66,-2.8],[2018.697,-2.2],[2018.732,-1.0],[2018.756,-0.3],[2018.772,-4.8],[2018.796,-9.4],[2018.827,-11.7],[2018.851,-11.1],[2018.886,-11.7],[2018.91,-12.9],[2018.933,-13.2],[2018.957,-13.7],[2018.98,-14.0],[2019.004,-12.9],[2019.03,-10.9],[2019.064,-10.2],[2019.09,-9.0],[2019.122,-8.6],[2019.158,-6.8],[2019.193,-5.9],[2019.229,-4.3],[2019.264,-3.5],[2019.3,-2.5],[2019.324,-1.3],[2019.347,-2.5],[2019.371,-4.3],[2019.394,-4.8],[2019.43,-3.7],[2019.466,-3.3],[2019.501,-4.0],[2019.537,-4.8],[2019.56,-6.3],[2019.584,-7.4],[2019.608,-7.9],[2019.631,-7.1],[2019.655,-6.8],[2019.678,-5.3],[2019.714,-4.3],[2019.75,-3.3],[2019.785,-3.0],[2019.82,-2.5],[2019.857,-2.2],[2019.892,-1.7],[2019.927,-3.3],[2019.951,-2.0],[2019.986,-1.3],[2020.022,-2.5],[2020.046,-3.3],[2020.069,-1.3],[2020.093,-4.8],[2020.117,-4.3],[2020.14,-5.6],[2020.164,-2.5],[2020.188,-8.6],[2020.211,-14.7],[2020.235,-17.4],[2020.259,-13.2],[2020.282,-10.2],[2020.306,-7.4],[2020.33,-6.0],[2020.365,-4.8],[2020.4,-3.3],[2020.436,-1.1],[2020.47,0],[2020.507,-0.3],[2020.543,-1.4],[2020.567,-3.3],[2020.59,-1.7],[2020.614,-3.3],[2020.638,-4.8],[2020.661,-3.3],[2020.697,-5.6],[2020.72,-4.8],[2020.744,-8.8],[2020.768,-4.0],[2020.79,-7.1],[2020.827,-5.6],[2020.85,-6.2],[2020.886,-5.3],[2020.92,-4.8],[2020.945,-4.0],[2020.969,-2.5],[2021.004,-1.0],[2021.04,0],[2021.087,-0.2],[2021.134,-1.3],[2021.17,-2.5],[2021.194,-3.3],[2021.21,-0.2],[2021.25,0],[2021.3,-0.3],[2021.324,-2.5],[2021.348,-4.0],[2021.372,-4.8],[2021.395,-2.5],[2021.42,0],[2021.443,-1.0],[2021.466,0],[2021.49,-0.3],[2021.514,0],[2021.537,-1.0],[2021.56,-4.0],[2021.585,-7.1],[2021.608,-9.4],[2021.632,-11.7],[2021.656,-8.6],[2021.675,-6.0],[2021.691,-9.4],[2021.708,-7.9],[2021.727,-10.2],[2021.743,-7.1],[2021.762,-14.7],[2021.786,-13.2],[2021.81,-10.2],[2021.833,-7.9],[2021.857,-5.6],[2021.88,-4.5],[2021.904,-6.3],[2021.928,-4.3],[2021.952,-4.0],[2021.975,-4.8],[2021.999,-1.9],[2022.023,-4.0],[2022.046,-8.6],[2022.07,-11.7],[2022.094,-9.4],[2022.117,-7.4],[2022.141,-7.9],[2022.165,-8.6],[2022.188,-12.5],[2022.212,-10.9],[2022.236,-9.4],[2022.26,-10.2],[2022.283,-13.2],[2022.307,-14.7],[2022.33,-15.5],[2022.354,-17.0],[2022.378,-16.3],[2022.414,-15.5],[2022.437,-14.7],[2022.46,-17.0],[2022.485,-19.3],[2022.508,-20.1],[2022.531,-21.0],[2022.555,-20.2],[2022.58,-18.5],[2022.615,-17.6],[2022.65,-19.0],[2022.674,-20.2],[2022.71,-21.6],[2022.745,-22.5],[2022.768,-25.6],[2022.8,-28.3],[2022.816,-30.4],[2022.834,-27.6],[2022.851,-26.2],[2022.875,-22.9],[2022.898,-20.2],[2022.922,-18.2],[2022.946,-19.5],[2022.97,-20.9],[2023.0,-22.2],[2023.017,-21.6],[2023.04,-20.2],[2023.064,-19.5],[2023.088,-18.2],[2023.112,-17.6],[2023.136,-16.2],[2023.158,-14.5],[2023.194,-12.9],[2023.218,-10.2],[2023.241,-8.6],[2023.265,-7.9],[2023.289,-7.1],[2023.312,-9.0],[2023.336,-5.9],[2023.36,-5.6],[2023.383,-4.0],[2023.407,-2.5],[2023.43,-1.3],[2023.454,-1.7],[2023.478,-1.0],[2023.514,-2.5],[2023.537,-3.7],[2023.56,-3.1],[2023.585,-4.0],[2023.608,-7.1],[2023.632,-5.3],[2023.656,-3.7],[2023.68,-2.8],[2023.703,-1.4],[2023.727,-2.5],[2023.75,-4.0],[2023.774,-1.4],[2023.798,0],[2023.833,0],[2023.868,-0.5],[2023.905,0],[2023.94,-1.4],[2023.975,-1.7],[2024.01,-1.0],[2024.046,-1.4],[2024.07,0],[2024.117,0],[2024.17,-0.8],[2024.22,-0.2],[2024.27,-1.2],[2024.295,-1.3],[2024.33,-2.5],[2024.366,-4.0],[2024.39,-3.3],[2024.425,-1.7],[2024.449,-3.7],[2024.472,-2.5],[2024.52,0],[2024.567,-4.0],[2024.603,-10.2],[2024.638,-4.8],[2024.674,-3.4],[2024.697,-5.6],[2024.72,-7.1],[2024.744,-4.8],[2024.768,-6.3],[2024.792,-4.0],[2024.816,-4.8],[2024.851,-5.9],[2024.887,-5.3],[2024.922,-6.3],[2024.958,-8.6],[2024.982,-5.9],[2025.005,-5.6],[2025.04,-7.1],[2025.065,-5.6],[2025.09,-4.0],[2025.136,-5.9],[2025.171,-7.1],[2025.207,-8.6],[2025.23,-10.2],[2025.254,-14.7],[2025.273,-20.9],[2025.29,-22.4],[2025.313,-19.3],[2025.337,-16.3],[2025.361,-14.0],[2025.384,-13.2],[2025.408,-14.7],[2025.432,-11.7],[2025.455,-10.2],[2025.479,-7.9],[2025.503,-6.3],[2025.526,-4.0],[2025.562,-1.7],[2025.597,-2.5],[2025.621,-0.6],[2025.657,-1.3],[2025.692,-1.4],[2025.727,-4.0],[2025.746,-4.8],[2025.763,-1.3],[2025.8,-1.9],[2025.822,-0.6],[2025.858,0],[2025.893,-2.5],[2025.917,-3.7],[2025.94,0],[2025.976,-0.6],[2026.011,0],[2026.059,-0.3],[2026.094,0],[2026.13,-0.9],[2026.165,0],[2026.2,-1.7],[2026.236,-0.9],[2026.272,0],[2026.32,-0.9],[2026.355,-2.5],[2026.39,-0.2],[2026.426,0],[2026.462,-0.9],[2026.509,0],[2026.532,-5.6],[2026.556,-12.5],[2026.58,-18.9],[2026.592,-7.1],[2026.615,-5.6],[2026.64,-4.8],[2026.663,-5.9],[2026.686,-6.2],[2026.698,-3.9]];

// 畫線順序與圖例順序一致
var seriesData = [qcutDD, reasonDD, strictDD, etfDD, pctlDD];

var chart = echarts.init(document.getElementById('chart'));
var font = '"Noto Sans CJK TC", "Noto Sans", sans-serif';

// 圖例位置（模仿原圖兩行排列）
var legendPos = [[227, 1137], [722, 1137], [1146, 1137], [1475, 1137], [227, 1176]];
var legends = names.map(function (n, i) {
  return {
    data: [n],
    left: legendPos[i][0],
    top: legendPos[i][1],
    padding: 0,
    icon: 'rect',
    itemWidth: 56,
    itemHeight: 4,
    selectedMode: false,
    textStyle: { fontFamily: font, fontSize: 25, color: '#111', lineHeight: 30, padding: [0, 0, 0, 9] }
  };
});

var option = {
  backgroundColor: '#fff',
  animation: false,
  title: {
    text: '回撤曲線:排名法、兩種門檻法與 0050 在下跌段的表現',
    left: 995,
    textAlign: 'center',
    top: 12,
    textStyle: { fontFamily: font, fontSize: 42, fontWeight: 'normal', color: '#111' }
  },
  legend: legends,
  grid: {
    left: 107, right: 19, top: 91, bottom: 211,
    show: true, borderColor: '#c9d3e0', borderWidth: 2, backgroundColor: '#fff'
  },
  xAxis: {
    type: 'value',
    min: 2014.58,
    max: 2027.255,
    axisLine: { show: false, onZero: false },
    axisTick: { show: true, length: 8, customValues: yearTicks, lineStyle: { color: '#2a3f5f', width: 2 } },
    axisLabel: {
      customValues: yearTicks, margin: 18,
      fontFamily: font, fontSize: 25, color: '#2a3f5f',
      formatter: function (v) { return String(Math.round(v)); }
    },
    splitLine: { show: true, lineStyle: { color: '#e4e7ec', width: 2 } }
  },
  yAxis: {
    type: 'value',
    min: -35.64,
    max: 1.71,
    name: '回撤(%)',
    nameLocation: 'middle',
    nameGap: 66,
    nameTextStyle: { fontFamily: font, fontSize: 24, color: '#111' },
    axisLine: { show: false, onZero: false },
    axisTick: { show: true, length: 8, customValues: ddTicks, lineStyle: { color: '#2a3f5f', width: 2 } },
    axisLabel: {
      customValues: ddTicks, margin: 17,
      fontFamily: font, fontSize: 25, color: '#2a3f5f',
      formatter: function (v) { return String(Math.round(v)); }
    },
    splitLine: { show: true, lineStyle: { color: '#e4e7ec', width: 2 } }
  },
  series: seriesData.map(function (d, i) {
    return {
      name: names[i],
      type: 'line',
      data: d,
      showSymbol: false,
      symbol: 'none',
      lineStyle: { color: colors[i], width: 4.5, join: 'round' },
      itemStyle: { color: colors[i] },
      emphasis: { disabled: true },
      z: 2 + i
    };
  })
};

chart.setOption(option);
</script>
</body>
</html>
